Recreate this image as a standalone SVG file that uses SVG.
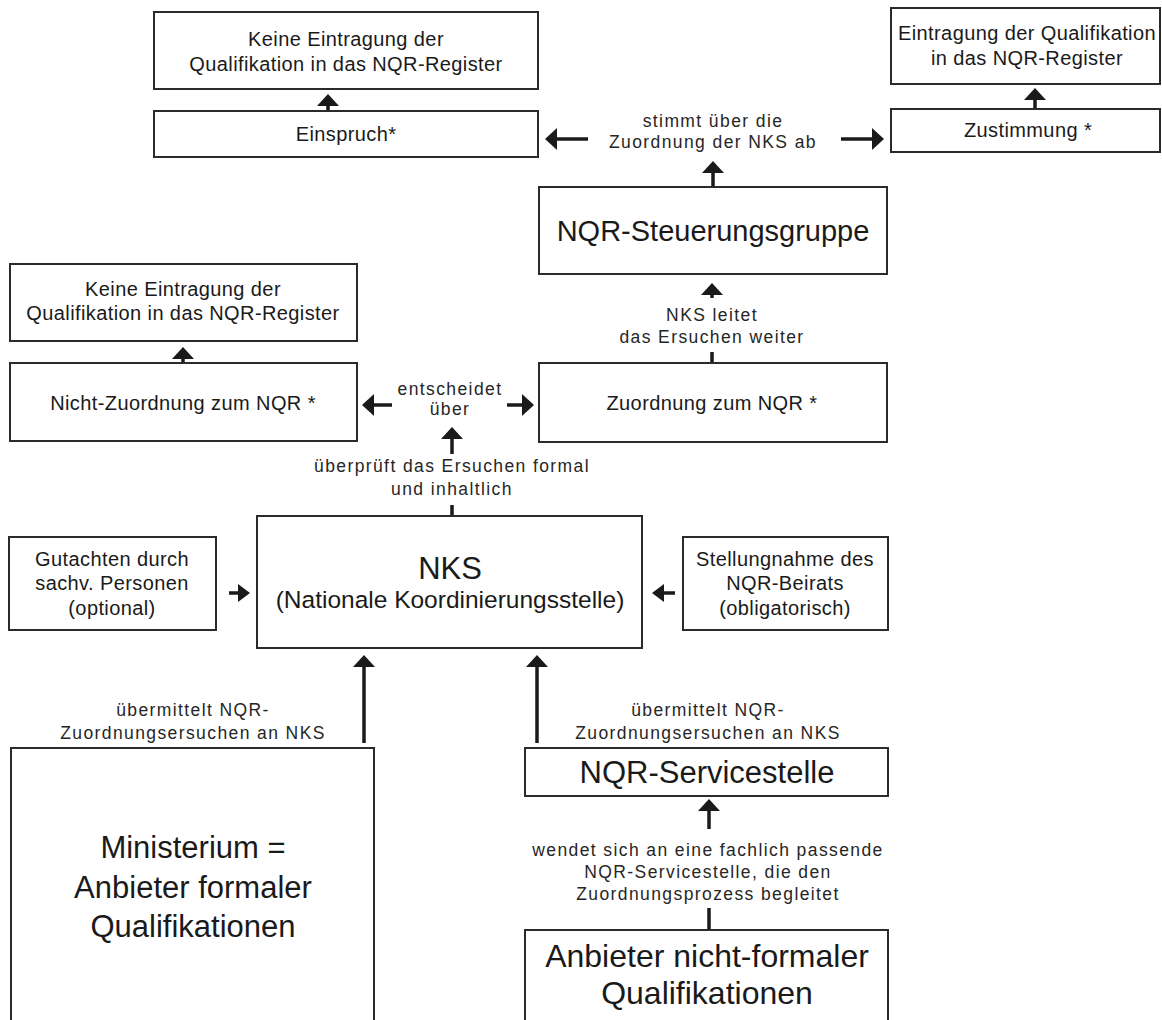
<svg xmlns="http://www.w3.org/2000/svg" width="1162" height="1020" viewBox="0 0 1162 1020">
<style>
  .box { fill: #ffffff; stroke: #2b2b2b; stroke-width: 2; }
  .t { font-family: "Liberation Sans", Arial, sans-serif; fill: #1a1a1a; text-anchor: middle; }
  .bt { font-size: 20px; letter-spacing: 0.4px; }
  .lb { font-size: 17.5px; letter-spacing: 1.4px; fill: #262626; }
  .big { font-size: 29px; }
  .con { stroke: #1a1a1a; stroke-width: 3.5; fill: none; marker-end: url(#ah); }
  .tick { stroke: #1a1a1a; stroke-width: 3.5; fill: none; }
  .con-s { stroke: #1a1a1a; stroke-width: 3.5; fill: none; marker-end: url(#ahs); }
</style>
<defs>
  <marker id="ah" markerUnits="userSpaceOnUse" markerWidth="14" markerHeight="24" refX="3" refY="11" orient="auto" viewBox="0 0 14 24">
    <path d="M0,0 L12,11 L0,22 Z" fill="#1a1a1a"/>
  </marker>
  <marker id="ahs" markerUnits="userSpaceOnUse" markerWidth="14" markerHeight="20" refX="3" refY="9" orient="auto" viewBox="0 0 14 20">
    <path d="M0,0 L12,9 L0,18 Z" fill="#1a1a1a"/>
  </marker>
</defs>
<rect width="1162" height="1020" fill="#ffffff"/>

<g id="connectors">
  <line class="con" x1="328" y1="111" x2="328" y2="103"/>
  <line class="con" x1="1035" y1="109" x2="1035" y2="97"/>
  <line class="con" x1="588" y1="139" x2="554" y2="139"/>
  <line class="con" x1="841" y1="139" x2="875" y2="139"/>
  <line class="con" x1="713" y1="187" x2="713" y2="170"/>
  <line class="tick" x1="712" y1="363" x2="712" y2="352"/>
  <line class="con" x1="712" y1="298" x2="712" y2="292"/>
  <line class="con" x1="183" y1="363" x2="183" y2="356"/>
  <line class="con" x1="392" y1="405" x2="371" y2="405"/>
  <line class="con" x1="507" y1="405" x2="525" y2="405"/>
  <line class="con" x1="452" y1="454" x2="452" y2="436"/>
  <line class="tick" x1="452" y1="505" x2="452" y2="516"/>
  <line class="con-s" x1="229" y1="593" x2="241" y2="593"/>
  <line class="con-s" x1="675" y1="593" x2="661" y2="593"/>
  <line class="con" x1="364" y1="743" x2="364" y2="664"/>
  <line class="con" x1="537" y1="743" x2="537" y2="664"/>
  <line class="tick" x1="709" y1="930" x2="709" y2="908"/>
  <line class="con" x1="709" y1="829" x2="709" y2="808"/>
</g>

<g id="labels">
  <text class="t lb" x="713" y="127">stimmt über die</text>
  <text class="t lb" x="713" y="148">Zuordnung der NKS ab</text>
  <text class="t lb" x="712" y="321">NKS leitet</text>
  <text class="t lb" x="712" y="343">das Ersuchen weiter</text>
  <text class="t lb" x="450" y="395">entscheidet</text>
  <text class="t lb" x="450" y="415">über</text>
  <text class="t lb" x="452" y="472">überprüft das Ersuchen formal</text>
  <text class="t lb" x="452" y="495">und inhaltlich</text>
  <text class="t lb" x="193" y="716">übermittelt NQR-</text>
  <text class="t lb" x="193" y="739">Zuordnungsersuchen an NKS</text>
  <text class="t lb" x="708" y="716">übermittelt NQR-</text>
  <text class="t lb" x="708" y="739">Zuordnungsersuchen an NKS</text>
  <text class="t lb" x="708" y="856">wendet sich an eine fachlich passende</text>
  <text class="t lb" x="708" y="878">NQR-Servicestelle, die den</text>
  <text class="t lb" x="708" y="900">Zuordnungsprozess begleitet</text>
</g>

<g id="keine-eintragung-top">
  <rect class="box" x="154" y="12" width="384" height="77"/>
  <text class="t bt" x="346" y="46">Keine Eintragung der</text>
  <text class="t bt" x="346" y="71">Qualifikation in das NQR-Register</text>
</g>
<g id="einspruch">
  <rect class="box" x="154" y="111" width="384" height="46"/>
  <text class="t bt" x="346" y="141">Einspruch*</text>
</g>
<g id="eintragung">
  <rect class="box" x="891" y="8" width="269" height="76"/>
  <text class="t bt" x="1027" y="40">Eintragung der Qualifikation</text>
  <text class="t bt" x="1027" y="65">in das NQR-Register</text>
</g>
<g id="zustimmung">
  <rect class="box" x="891" y="109" width="269" height="43"/>
  <text class="t bt" x="1028" y="137">Zustimmung *</text>
</g>
<g id="steuerungsgruppe">
  <rect class="box" x="539" y="187" width="348" height="87"/>
  <text class="t big" x="713" y="241">NQR-Steuerungsgruppe</text>
</g>
<g id="keine-eintragung-mid">
  <rect class="box" x="10" y="264" width="347" height="77"/>
  <text class="t bt" x="183" y="296">Keine Eintragung der</text>
  <text class="t bt" x="183" y="320">Qualifikation in das NQR-Register</text>
</g>
<g id="nicht-zuordnung">
  <rect class="box" x="10" y="363" width="347" height="78"/>
  <text class="t bt" x="183" y="410">Nicht-Zuordnung zum NQR *</text>
</g>
<g id="zuordnung">
  <rect class="box" x="539" y="363" width="348" height="79"/>
  <text class="t bt" x="712" y="410">Zuordnung zum NQR *</text>
</g>
<g id="nks">
  <rect class="box" x="257" y="516" width="385" height="132"/>
  <text class="t" x="450" y="579" font-size="31">NKS</text>
  <text class="t" x="450" y="608" font-size="24.5">(Nationale Koordinierungsstelle)</text>
</g>
<g id="gutachten">
  <rect class="box" x="9" y="537" width="207" height="93"/>
  <text class="t bt" x="112" y="566">Gutachten durch</text>
  <text class="t bt" x="112" y="590">sachv. Personen</text>
  <text class="t bt" x="112" y="615">(optional)</text>
</g>
<g id="stellungnahme">
  <rect class="box" x="683" y="537" width="205" height="93"/>
  <text class="t bt" x="785" y="566">Stellungnahme des</text>
  <text class="t bt" x="785" y="590">NQR-Beirats</text>
  <text class="t bt" x="785" y="615">(obligatorisch)</text>
</g>
<g id="ministerium">
  <rect class="box" x="11" y="748" width="363" height="290"/>
  <text class="t" x="193" y="858" font-size="31">Ministerium =</text>
  <text class="t" x="193" y="898" font-size="31">Anbieter formaler</text>
  <text class="t" x="193" y="937" font-size="31">Qualifikationen</text>
</g>
<g id="servicestelle">
  <rect class="box" x="525" y="748" width="363" height="48"/>
  <text class="t" x="707" y="783" font-size="31">NQR-Servicestelle</text>
</g>
<g id="anbieter-nicht-formal">
  <rect class="box" x="525" y="930" width="363" height="110"/>
  <text class="t" x="707" y="967" font-size="32">Anbieter nicht-formaler</text>
  <text class="t" x="707" y="1004" font-size="32">Qualifikationen</text>
</g>
</svg>
